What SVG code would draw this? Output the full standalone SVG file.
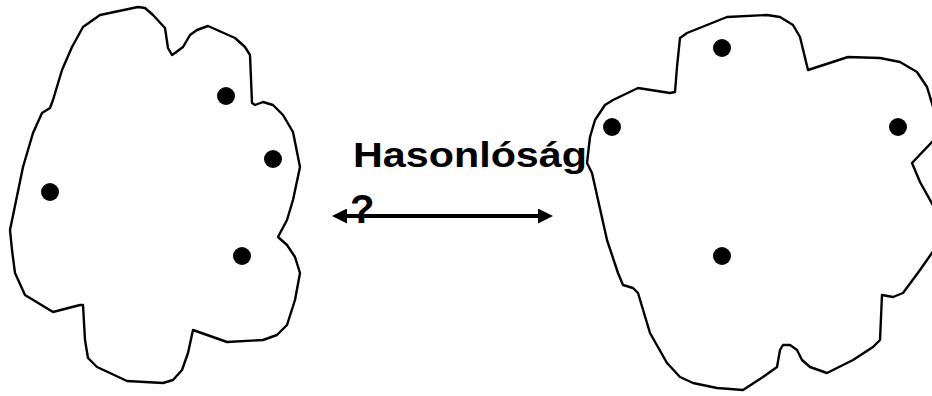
<svg xmlns="http://www.w3.org/2000/svg" width="932" height="396" viewBox="0 0 932 396">
<style>
.blob{fill:#fff;stroke:#000;stroke-width:2.4;stroke-linejoin:round}
.dot{fill:#000}
.lbl{font-family:"Liberation Sans",Arial,sans-serif;font-weight:bold;fill:#000}
.conn{stroke:#000;stroke-width:4;fill:none}
</style>
<defs>
<marker id="ah" viewBox="0 0 15 15" refX="2" refY="7.5" markerWidth="15" markerHeight="15" markerUnits="userSpaceOnUse" orient="auto-start-reverse">
<path d="M0,0 L15,7.5 L0,15 Z" fill="#000"/>
</marker>
</defs>
<rect width="932" height="396" fill="#fff"/>
<g id="set-left">
<path class="blob" d="M100,15 L138,7 L145,8 L153,15 L165,28 L168,48 L172,55 L175,53 L183,47 L190,35 L197,30 L208,26 L217,30 L235,38 L245,47 L250,55 L252,103 L255,105 L263,102 L273,105 L283,115 L293,132 L300,167 L293,200 L287,220 L278,237 L287,245 L295,257 L300,273 L295,300 L287,325 L277,335 L263,340 L227,342 L193,330 L188,353 L182,370 L173,380 L163,383 L127,381 L97,367 L88,358 L85,340 L83,305 L80,305 L53,312 L25,295 L15,273 L12,250 L10,230 L23,167 L33,133 L42,113 L50,108 L53,100 L62,70 L72,47 L83,27 Z"/>
<circle class="dot" cx="226" cy="96" r="9"/>
<circle class="dot" cx="273" cy="159" r="9"/>
<circle class="dot" cx="50" cy="192" r="9"/>
<circle class="dot" cx="242" cy="256" r="9"/>
</g>
<g id="set-right">
<path class="blob" d="M727,17 L767,15 L780,17 L793,25 L800,37 L808,70 L848,57 L880,58 L900,62 L917,72 L927,87 L934,110 L934,140 L912,163 L920,182 L934,207 L934,250 L920,270 L903,293 L893,297 L882,295 L880,340 L873,347 L853,360 L827,373 L810,367 L802,360 L797,350 L790,345 L783,345 L780,350 L777,367 L763,377 L743,390 L717,388 L693,383 L680,377 L667,363 L650,333 L638,293 L633,288 L623,285 L618,273 L607,240 L592,173 L587,163 L590,137 L595,120 L605,105 L613,100 L638,88 L670,93 L675,92 L677,67 L680,38 L687,33 Z"/>
<circle class="dot" cx="722" cy="48" r="9"/>
<circle class="dot" cx="612" cy="127" r="9"/>
<circle class="dot" cx="898" cy="127" r="9"/>
<circle class="dot" cx="722" cy="256" r="9"/>
</g>
<g id="connectors">
<line class="conn" x1="345" y1="216" x2="540" y2="216" marker-start="url(#ah)" marker-end="url(#ah)"/>
</g>
<g id="label">
<text class="lbl" x="353" y="167" font-size="35" textLength="234" lengthAdjust="spacingAndGlyphs">Hasonlóság</text>
<text class="lbl" x="350" y="223" font-size="40">?</text>
</g>
</svg>
